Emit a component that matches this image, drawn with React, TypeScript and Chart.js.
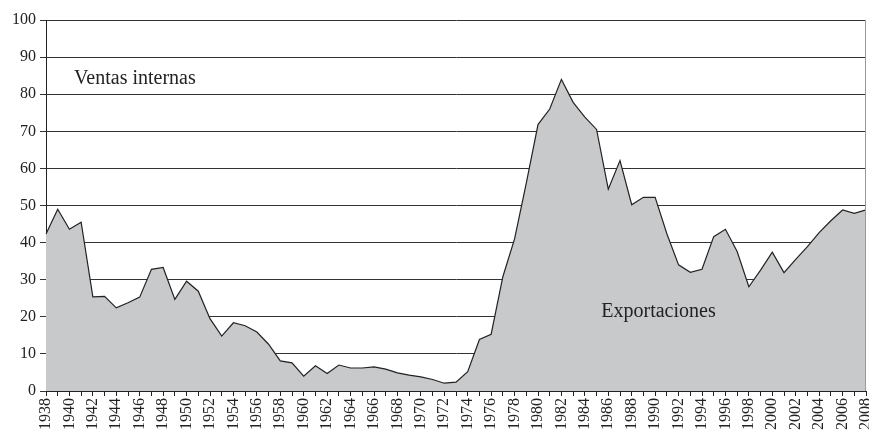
import React, { useEffect, useRef } from "react";
import { Chart, registerables } from "chart.js";

Chart.register(...registerables);

const years: string[] = [];
for (let y = 1938; y <= 2008; y++) years.push(String(y));

const exportShare: number[] = [
  42.3, 49.0, 43.6, 45.5, 25.4, 25.5, 22.4, 23.8, 25.3, 32.8,
  33.3, 24.7, 29.6, 26.9, 19.5, 14.8, 18.4, 17.6, 15.9, 12.6,
  8.1, 7.6, 4.0, 6.8, 4.7, 7.0, 6.2, 6.2, 6.5, 5.9,
  4.9, 4.3, 3.8, 3.1, 2.1, 2.4, 5.2, 13.9, 15.3, 30.8,
  41.0, 56.0, 71.8, 76.0, 84.0, 77.8, 73.8, 70.5, 54.4, 62.1,
  50.2, 52.2, 52.2, 42.4, 34.0, 32.0, 32.8, 41.6, 43.6, 37.6,
  28.1, 32.6, 37.4, 31.9, 35.5, 38.9, 42.7, 45.9, 48.8, 47.9,
  48.8,
];

const yTicks: number[] = [0, 10, 20, 30, 40, 50, 60, 70, 80, 90, 100];
const labelTop = "Ventas internas";
const labelBottom = "Exportaciones";

const FONT = "'Liberation Serif', 'Times New Roman', serif";

const annotations = {
  id: "annotations",
  afterDatasetsDraw(chart: any) {
    const { ctx, chartArea } = chart;
    ctx.save();
    ctx.strokeStyle = "#999";
    ctx.lineWidth = 1;
    ctx.beginPath();
    ctx.moveTo(Math.round(chartArea.right) - 0.5, chartArea.top);
    ctx.lineTo(Math.round(chartArea.right) - 0.5, chartArea.bottom);
    ctx.stroke();
    ctx.fillStyle = "#222";
    ctx.font = `20px ${FONT}`;
    ctx.textBaseline = "alphabetic";
    ctx.textAlign = "left";
    const xs = chart.scales.x;
    const ys = chart.scales.y;
    ctx.fillText(labelTop, xs.getPixelForValue(2.4), ys.getPixelForValue(82.7));
    ctx.fillText(labelBottom, xs.getPixelForValue(47.4), ys.getPixelForValue(19.9));
    ctx.restore();
  },
};

export default function App() {
  const ref = useRef<HTMLCanvasElement | null>(null);
  useEffect(() => {
    if (!ref.current) return;
    const chart = new Chart(ref.current, {
      type: "line",
      data: {
        labels: years,
        datasets: [
          {
            data: exportShare,
            fill: "origin",
            backgroundColor: "#c8c9cb",
            borderColor: "#222",
            borderWidth: 1.2,
            pointRadius: 0,
            tension: 0,
          },
        ],
      },
      options: {
        animation: false,
        responsive: true,
        maintainAspectRatio: false,
        layout: { padding: { top: 20, right: 3, bottom: 4, left: 8 } },
        plugins: { legend: { display: false }, tooltip: { enabled: false } },
        scales: {
          x: {
            type: "category",
            offset: false,
            afterFit: (scale: any) => {
              scale.paddingLeft = 0;
              scale.paddingRight = 0;
            },
            grid: {
              display: true,
              drawOnChartArea: false,
              drawTicks: true,
              tickLength: 5,
              color: "#222",
            },
            border: { display: true, color: "#222", width: 1 },
            ticks: {
              autoSkip: false,
              minRotation: 90,
              maxRotation: 90,
              padding: 2,
              color: "#222",
              font: { family: FONT, size: 16 },
              callback: (_v: any, i: number) => (i % 2 === 0 ? years[i] : ""),
            },
          },
          y: {
            min: 0,
            max: 100,
            afterBuildTicks: (axis: any) => {
              axis.ticks = yTicks.map((v) => ({ value: v }));
            },
            grid: { color: "#333", lineWidth: 1, drawTicks: true, tickLength: 6 },
            border: { display: true, color: "#222", width: 1 },
            ticks: {
              padding: 4,
              color: "#222",
              font: { family: FONT, size: 16 },
            },
          },
        },
      },
      plugins: [annotations],
    });
    return () => chart.destroy();
  }, []);
  return (
    <div style={{ position: "fixed", left: 0, top: 0, width: 869, height: 436, background: "#fff" }}>
      <canvas ref={ref} />
    </div>
  );
}
